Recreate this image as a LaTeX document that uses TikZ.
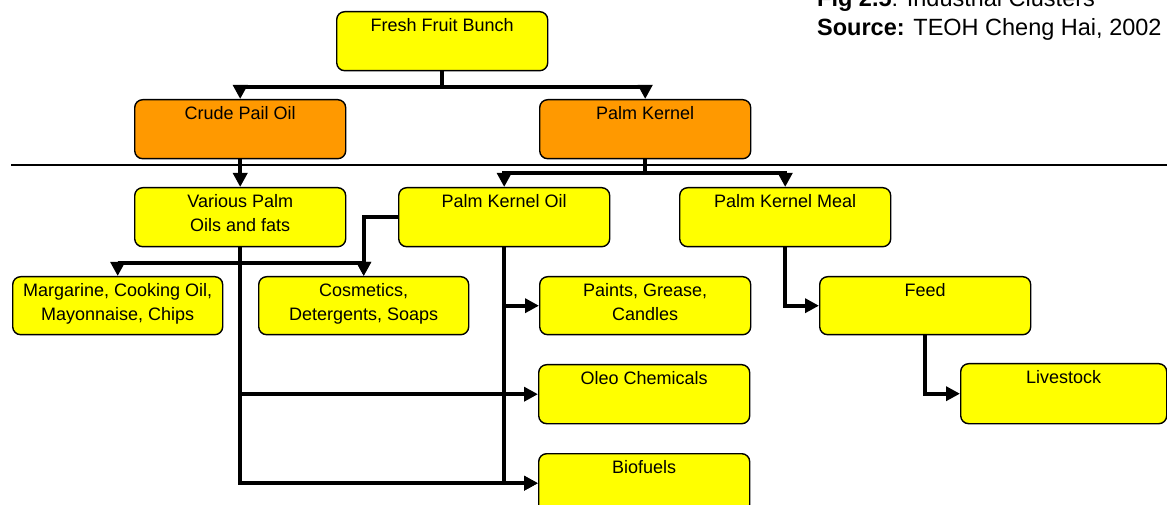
\documentclass[tikz,border=0pt]{standalone}
\usepackage{fontspec}
\setmainfont{Liberation Sans}
\usetikzlibrary{arrows.meta}
\definecolor{boxyellow}{HTML}{FFFF00}
\definecolor{boxorange}{HTML}{FF9900}
\begin{document}
\begin{tikzpicture}[x={(1bp,0)}, y={(0,-1bp)},
  box/.style={draw=black, line width=1.4bp, rounded corners=8bp, fill=boxyellow,
    minimum width=211bp, minimum height=59bp, inner sep=0pt, anchor=north west},
  obox/.style={box, fill=boxorange},
  lbl/.style={anchor=north, inner sep=0pt, yshift=-7.5bp, align=center,
    font=\fontsize{18bp}{23.5bp}\selectfont},
  conn/.style={line width=4bp, -{Triangle[length=14bp,width=14bp]}},
  connline/.style={line width=4bp},
  ttl/.style={anchor=base west, inner sep=0pt, font=\fontsize{23.5bp}{28bp}\selectfont}
]
\useasboundingbox (0,0) rectangle (1167,505);
\clip (0,0) rectangle (1167,505);

% title
\node[ttl] (t1) at (817,7) {\textbf{Fig 2.5}: Industrial Clusters};
\node[ttl] (t2) at (817,36) {\textbf{Source:} TEOH Cheng Hai, 2002};

% horizontal rule
\draw[line width=1.5bp] (11,165) -- (1167,165);

% boxes
\node[box, label={[lbl]north:Fresh Fruit Bunch}] (ffb) at (336,11) {};
\node[obox, label={[lbl]north:Crude Pail Oil}] (cpo) at (134,99) {};
\node[obox, label={[lbl]north:Palm Kernel}] (pk) at (539,99) {};
\node[box, label={[lbl]north:{Various Palm\\Oils and fats}}] (vpo) at (134,187) {};
\node[box, label={[lbl]north:Palm Kernel Oil}] (pko) at (398,187) {};
\node[box, label={[lbl]north:Palm Kernel Meal}] (pkm) at (679,187) {};
\node[box, minimum width=210bp, minimum height=58bp, label={[lbl]north:{Margarine, Cooking Oil,\\Mayonnaise, Chips}}] (mar) at (12,276) {};
\node[box, minimum width=210bp, minimum height=58bp, label={[lbl]north:{Cosmetics,\\Detergents, Soaps}}] (cos) at (258,276) {};
\node[box, minimum height=58bp, label={[lbl]north:{Paints, Grease,\\Candles}}] (pai) at (539,276) {};
\node[box, minimum height=58bp, label={[lbl]north:Feed}] (feed) at (819,276) {};
\node[box, label={[lbl]north:Oleo Chemicals}] (oleo) at (538,364) {};
\node[box, label={[lbl]north:Biofuels}] (bio) at (538,453) {};
\node[box, minimum width=206bp, minimum height=60bp, label={[lbl]north:Livestock}] (live) at (960,363) {};

% connectors
\draw[connline] (ffb.south) -- ++(0,16) coordinate (j1);
\draw[conn] (j1) -| (cpo.north);
\draw[conn] (j1) -| (pk.north);

\draw[conn] (cpo.south) -- (vpo.north);

\draw[connline] (pk.south) -- ++(0,14) coordinate (j2);
\draw[conn] (j2) -| (pko.north);
\draw[conn] (j2) -| (pkm.north);

\path (vpo.south) ++(0,16) coordinate (j3);
\draw[conn] (j3) -| (mar.north);
\draw[conn] (j3) -| (cos.north);
\draw[conn] (vpo.south) |- (oleo.west);
\draw[conn] (vpo.south) |- (bio.west);

\draw[conn] (pko.west) -| (cos.north);
\draw[conn] (pko.south) |- (pai.west);
\draw[conn] (pko.south) |- (bio.west);

\draw[conn] (pkm.south) |- (feed.west);
\draw[conn] (feed.south) |- (live.west);
\end{tikzpicture}
\end{document}
